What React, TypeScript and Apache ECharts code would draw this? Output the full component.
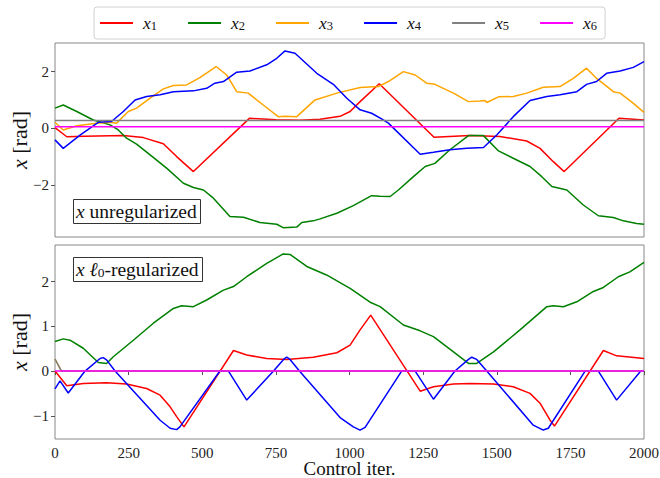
import React, { useEffect, useRef } from "react";
import * as echarts from "echarts";

type P = [number, number];

const seriesNames = ["x1", "x2", "x3", "x4", "x5", "x6"];
const seriesColors = ["#ff0000", "#008000", "#ffa500", "#0000ff", "#808080", "#ff00ff"];
const xTicks = [0, 250, 500, 750, 1000, 1250, 1500, 1750, 2000];
const topYTicks = [-2, 0, 2];
const bottomYTicks = [-1, 0, 1, 2];

// Top panel: x unregularized
const topX1: P[] = [[0,0.02],[40,-0.3],[100,-0.28],[232,-0.26],[300,-0.33],[368,-0.55],[413,-1.0],[470,-1.53],[660,0.35],[750,0.3],[832,0.28],[900,0.32],[968,0.42],[1002,0.59],[1036,0.94],[1101,1.57],[1287,-0.32],[1409,-0.26],[1511,-0.29],[1602,-0.45],[1647,-0.71],[1692,-1.18],[1729,-1.53],[1915,0.35],[2000,0.29]];
const topX2: P[] = [[0,0.71],[28,0.82],[74,0.59],[130,0.29],[187,0.12],[215,-0.06],[243,-0.35],[277,-0.56],[323,-0.94],[379,-1.41],[436,-1.94],[470,-2.09],[504,-2.18],[538,-2.47],[594,-3.12],[640,-3.14],[696,-3.33],[753,-3.39],[775,-3.51],[821,-3.49],[838,-3.33],[877,-3.27],[900,-3.2],[957,-3.0],[1013,-2.73],[1075,-2.38],[1104,-2.4],[1138,-2.41],[1166,-2.18],[1217,-1.71],[1257,-1.35],[1290,-1.24],[1341,-0.76],[1404,-0.26],[1455,-0.26],[1506,-0.8],[1556,-1.06],[1613,-1.35],[1653,-1.71],[1687,-2.06],[1738,-2.18],[1794,-2.71],[1845,-3.09],[1896,-3.15],[1930,-3.27],[1975,-3.36],[2000,-3.39]];
const topX3: P[] = [[0,0.21],[28,-0.06],[74,0.09],[141,0.18],[187,0.21],[209,0.18],[249,0.59],[277,0.71],[323,1.06],[368,1.39],[402,1.51],[447,1.53],[492,1.79],[547,2.18],[583,1.88],[617,1.29],[656,1.24],[707,0.82],[758,0.41],[781,0.42],[821,0.41],[883,1.0],[957,1.24],[1036,1.44],[1098,1.47],[1132,1.65],[1183,2.0],[1223,1.88],[1262,1.59],[1290,1.55],[1353,1.24],[1404,0.94],[1443,0.96],[1460,0.98],[1466,0.91],[1506,1.11],[1556,1.12],[1602,1.24],[1658,1.45],[1715,1.47],[1760,1.76],[1805,2.12],[1839,1.76],[1896,1.29],[1919,1.24],[1964,0.88],[2000,0.56]];
const topX4: P[] = [[0,-0.41],[28,-0.71],[85,-0.24],[147,0.21],[192,0.24],[232,0.59],[272,1.0],[311,1.12],[357,1.18],[402,1.29],[470,1.32],[515,1.41],[543,1.59],[572,1.65],[617,1.98],[662,2.02],[719,2.24],[753,2.47],[781,2.73],[815,2.65],[889,1.94],[945,1.55],[991,1.06],[1036,0.65],[1075,0.53],[1109,0.33],[1132,0.18],[1240,-0.92],[1285,-0.85],[1341,-0.76],[1398,-0.71],[1455,-0.68],[1500,-0.24],[1556,0.41],[1613,0.98],[1670,1.12],[1715,1.18],[1772,1.29],[1805,1.55],[1839,1.65],[1873,1.94],[1919,2.02],[1964,2.15],[2000,2.35]];
const topX5: P[] = [[0,0.27],[2000,0.27]];
const topX6: P[] = [[0,0.05],[2000,0.05]];

// Bottom panel: x l0-regularized
const botX1: P[] = [[0,0],[40,-0.33],[96,-0.28],[175,-0.26],[243,-0.29],[311,-0.39],[357,-0.54],[391,-0.8],[413,-1.02],[438,-1.25],[606,0.46],[651,0.36],[719,0.28],[787,0.26],[877,0.31],[957,0.41],[1002,0.58],[1036,0.92],[1072,1.25],[1240,-0.45],[1285,-0.35],[1353,-0.29],[1409,-0.28],[1489,-0.29],[1556,-0.35],[1613,-0.5],[1647,-0.72],[1681,-1.1],[1696,-1.23],[1862,0.46],[1907,0.34],[2000,0.28]];
const botX2: P[] = [[0,0.66],[28,0.72],[51,0.69],[96,0.51],[147,0.19],[175,0.17],[198,0.32],[266,0.69],[334,1.07],[402,1.4],[430,1.46],[470,1.44],[515,1.59],[572,1.81],[606,1.89],[651,2.11],[719,2.41],[775,2.62],[798,2.61],[855,2.34],[922,2.15],[1002,1.85],[1070,1.54],[1104,1.44],[1183,1.03],[1240,0.9],[1285,0.77],[1353,0.43],[1404,0.17],[1432,0.17],[1489,0.43],[1579,0.92],[1670,1.44],[1692,1.46],[1726,1.44],[1772,1.55],[1828,1.78],[1862,1.87],[1913,2.11],[1952,2.22],[2000,2.43]];
const botX3: P[] = [[0,0.27],[22,0],[2000,0]];
const botX4: P[] = [[0,-0.4],[17,-0.22],[45,-0.49],[102,0],[153,0.28],[164,0.3],[175,0.25],[204,0],[357,-1.1],[391,-1.28],[413,-1.31],[424,-1.25],[560,0],[589,0],[651,-0.65],[742,0],[776,0.26],[787,0.31],[798,0.26],[830,0],[968,-1.04],[1013,-1.25],[1036,-1.32],[1053,-1.26],[1177,0],[1223,0],[1285,-0.63],[1358,0],[1404,0.26],[1415,0.31],[1432,0.26],[1466,0],[1624,-1.21],[1658,-1.32],[1675,-1.28],[1800,0],[1845,0],[1907,-0.65],[1989,0],[2000,0]];
const botX5: P[] = [[0,0.27],[22,0],[2000,0]];
const botX6: P[] = [[0,0],[2000,0]];

const topData = [topX1, topX2, topX3, topX4, topX5, topX6];
const botData = [botX1, botX2, botX3, botX4, botX5, botX6];

const FONT = "Liberation Serif";
const minus = (v: number) => (v < 0 ? "\u2212" + Math.abs(v) : String(v));

export default function App() {
  const ref = useRef<HTMLDivElement>(null);
  useEffect(() => {
    if (!ref.current) return;
    const chart = echarts.init(ref.current, undefined, { renderer: "svg" });
    const series: any[] = [];
    const mk = (data: P[], i: number, idx: number) => ({
      type: "line",
      name: seriesNames[i],
      data,
      xAxisIndex: idx,
      yAxisIndex: idx,
      symbol: "none",
      showSymbol: false,
      lineStyle: { width: 1.5, color: seriesColors[i] },
      itemStyle: { color: seriesColors[i] },
      emphasis: { disabled: true },
    });
    topData.forEach((d, i) => series.push(mk(d, i, 0)));
    botData.forEach((d, i) => series.push(mk(d, i, 1)));

    const tickStyle = { show: true, length: 4, lineStyle: { color: "#555", width: 1 } };
    const labelStyle = { fontFamily: FONT, fontSize: 15, lineHeight: 15, color: "#222", margin: 6, formatter: minus };
    const yName = {
      name: "{i|x} [rad]",
      nameLocation: "middle",
      nameGap: 25,
      nameRotate: 90,
      nameMoveOverlap: false,
      nameTextStyle: {
        fontFamily: FONT,
        fontSize: 22,
        color: "#111",
        rich: { i: { fontFamily: FONT, fontStyle: "italic", fontSize: 22, color: "#111" } },
      },
    };
    const boxRich = {
      i: { fontFamily: FONT, fontStyle: "italic", fontSize: 19.5, color: "#111" },
      s: { fontFamily: FONT, fontSize: 13.5, color: "#111", verticalAlign: "bottom", lineHeight: 10 },
    };

    chart.setOption({
      animation: false,
      backgroundColor: "#ffffff",
      legend: {
        data: seriesNames.map((n) => ({ name: n, icon: "rect" })),
        left: 94,
        top: 7,
        padding: [7, 8, 7, 6],
        itemGap: 31,
        itemWidth: 33,
        itemHeight: 2,
        borderColor: "#d0d0d0",
        borderWidth: 1,
        borderRadius: 3,
        selectedMode: false,
        formatter: (name: string) => `{i|x}{s|${name.slice(1)}}`,
        textStyle: {
          fontFamily: FONT,
          rich: {
            i: { fontFamily: FONT, fontStyle: "italic", fontSize: 17.5, color: "#111", padding: [0, 0, 0, 5] },
            s: { fontFamily: FONT, fontSize: 12.5, color: "#111", verticalAlign: "bottom", lineHeight: 8 },
          },
        },
      },
      title: [
        {
          text: "{i|x} unregularized",
          left: 73,
          top: 199,
          padding: [2, 4, 3, 3],
          borderColor: "#333",
          borderWidth: 1,
          backgroundColor: "#fff",
          textStyle: { fontFamily: FONT, fontSize: 19.5, fontWeight: "normal", color: "#111", rich: boxRich },
        },
        {
          text: "{i|x} {i|\u2113}{s|0}-regularized",
          left: 73,
          top: 257,
          padding: [2, 4, 3, 3],
          borderColor: "#333",
          borderWidth: 1,
          backgroundColor: "#fff",
          textStyle: { fontFamily: FONT, fontSize: 19.5, fontWeight: "normal", color: "#111", rich: boxRich },
        },
      ],
      graphic: [
        {
          type: "text",
          x: 349.5,
          y: 468,
          style: {
            text: "Control iter.",
            fontFamily: FONT,
            fontSize: 19,
            lineHeight: 15,
            fill: "#111",
            align: "center",
            verticalAlign: "middle",
          },
        },
      ],
      grid: [
        { left: 55, top: 43, width: 589, height: 194, show: true, borderColor: "#888", borderWidth: 1, backgroundColor: "transparent", containLabel: false, outerBoundsMode: "none" },
        { left: 55, top: 245, width: 589, height: 194, show: true, borderColor: "#888", borderWidth: 1, backgroundColor: "transparent", containLabel: false, outerBoundsMode: "none" },
      ],
      xAxis: [
        {
          gridIndex: 0, type: "value", min: 0, max: 2000, interval: 250,
          axisLine: { show: false }, axisTick: { show: false }, axisLabel: { show: false }, splitLine: { show: false },
        },
        {
          gridIndex: 1, type: "value", min: 0, max: 2000, interval: 250,
          axisLine: { show: false }, splitLine: { show: false },
          axisTick: { ...tickStyle, customValues: xTicks },
          axisLabel: { ...labelStyle, customValues: xTicks },
        },
      ],
      yAxis: [
        {
          gridIndex: 0, type: "value", min: -3.84, max: 3.01,
          axisLine: { show: false }, splitLine: { show: false },
          axisTick: { ...tickStyle, customValues: topYTicks },
          axisLabel: { ...labelStyle, customValues: topYTicks },
          ...yName,
        },
        {
          gridIndex: 1, type: "value", min: -1.52, max: 2.82,
          axisLine: { show: false }, splitLine: { show: false },
          axisTick: { ...tickStyle, customValues: bottomYTicks },
          axisLabel: { ...labelStyle, customValues: bottomYTicks },
          ...yName,
        },
      ],
      series,
    });
    return () => chart.dispose();
  }, []);
  return (
    <div
      ref={ref}
      style={{ position: "fixed", left: 0, top: 0, width: 660, height: 478, background: "#fff" }}
    />
  );
}
